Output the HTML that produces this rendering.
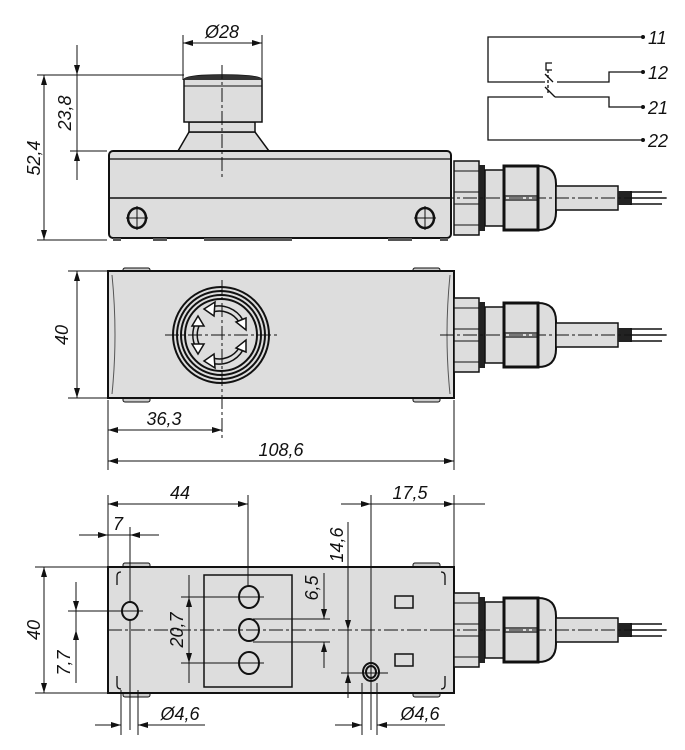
<!DOCTYPE html>
<html><head><meta charset="utf-8"><style>
html,body{margin:0;padding:0;background:#fff}
svg{display:block}
text{font-family:"Liberation Sans",sans-serif;font-style:italic;font-size:18px;fill:#111}
</style></head><body>
<svg width="685" height="750" viewBox="0 0 685 750" xmlns="http://www.w3.org/2000/svg">
<defs>
<marker id="a" viewBox="0 0 10 6" refX="10" refY="3" markerWidth="10" markerHeight="6" markerUnits="userSpaceOnUse" orient="auto-start-reverse"><path d="M0,0L10,3L0,6z" fill="#111"/></marker>
<g id="gland">
<rect x="454" y="-37" width="25" height="74" fill="#ddd" stroke="#111" stroke-width="1.5"/>
<line x1="454" y1="-27" x2="479" y2="-27" stroke="#111"/><line x1="454" y1="27" x2="479" y2="27" stroke="#111"/>
<line x1="454" y1="-6" x2="479" y2="-6" stroke="#111"/><line x1="454" y1="6" x2="479" y2="6" stroke="#111"/>
<rect x="479" y="-33" width="6" height="66" fill="#222"/>
<rect x="485" y="-28" width="19" height="56" fill="#ddd" stroke="#111" stroke-width="1.5"/>
<path d="M504,-32H538Q556,-32 556,-14V14Q556,32 538,32H504z" fill="#ddd" stroke="#111" stroke-width="2"/>
<rect x="504" y="-32" width="34" height="64" fill="#ddd" stroke="#111" stroke-width="3"/>
<line x1="504" y1="-2" x2="538" y2="-2" stroke="#111" stroke-width="1.2"/><line x1="504" y1="2" x2="538" y2="2" stroke="#111" stroke-width="1.2"/>
<line x1="538" y1="-32" x2="538" y2="32" stroke="#111" stroke-width="2"/>
<rect x="556" y="-12" width="62" height="24" fill="#ddd" stroke="#111" stroke-width="1.5"/>
<rect x="618" y="-7" width="14" height="14" fill="#222"/>
<line x1="630" y1="-6" x2="662" y2="-6" stroke="#111" stroke-width="1.5"/>
<line x1="630" y1="0" x2="666" y2="0" stroke="#111" stroke-width="1.5"/>
<line x1="630" y1="6" x2="662" y2="6" stroke="#111" stroke-width="1.5"/>
<line x1="440" y1="0" x2="670" y2="0" stroke="#111" stroke-width="1" stroke-dasharray="14,3,3,3"/>
</g>
</defs>

<!-- ========== TOP VIEW ========== -->
<!-- button -->
<path d="M178,151L189,132H255L269,151z" fill="#ddd" stroke="#111" stroke-width="1.5"/>
<rect x="189" y="122" width="66" height="10" fill="#ddd" stroke="#111" stroke-width="1.5"/>
<path d="M184,80Q184,75 222,75Q262,75 262,80V122H184z" fill="#ddd" stroke="#111" stroke-width="1.5"/>
<path d="M184,80Q184,75 222,75Q262,75 262,80z" fill="#333"/>
<line x1="184" y1="86" x2="262" y2="86" stroke="#111"/>
<!-- body -->
<rect x="109" y="151" width="342" height="87" rx="4" fill="#ddd" stroke="#111" stroke-width="2"/>
<line x1="109" y1="159" x2="451" y2="159" stroke="#111" stroke-width="1.2"/>
<line x1="109" y1="198" x2="451" y2="198" stroke="#111" stroke-width="1.5"/>
<rect x="113" y="238" width="8" height="3" fill="#555"/><rect x="153" y="238" width="14" height="3" fill="#555"/>
<rect x="204" y="238" width="88" height="3" fill="#555"/><rect x="388" y="238" width="24" height="3" fill="#555"/><rect x="440" y="238" width="8" height="3" fill="#555"/>
<g stroke="#111" fill="#ddd">
<ellipse cx="137" cy="218" rx="9" ry="10" stroke-width="2.5"/><line x1="126" y1="218" x2="148" y2="218"/><line x1="137" y1="206" x2="137" y2="230"/>
<ellipse cx="425" cy="218" rx="9" ry="10" stroke-width="2.5"/><line x1="414" y1="218" x2="436" y2="218"/><line x1="425" y1="206" x2="425" y2="230"/>
</g>
<line x1="222" y1="65" x2="222" y2="180" stroke="#111" stroke-dasharray="14,3,3,3"/>
<use href="#gland" transform="translate(0,198)"/>
<!-- dims top -->
<g stroke="#111" stroke-width="1" fill="none">
<line x1="183" y1="35" x2="183" y2="80"/><line x1="262" y1="35" x2="262" y2="80"/>
<line x1="183" y1="43" x2="262" y2="43" marker-start="url(#a)" marker-end="url(#a)"/>
<line x1="37" y1="75" x2="184" y2="75"/><line x1="37" y1="240" x2="107" y2="240"/>
<line x1="44" y1="75" x2="44" y2="240" marker-start="url(#a)" marker-end="url(#a)"/>
<line x1="70" y1="151" x2="107" y2="151"/>
<line x1="77" y1="45" x2="77" y2="75" marker-end="url(#a)"/>
<line x1="77" y1="75" x2="77" y2="151"/>
<line x1="77" y1="180" x2="77" y2="151" marker-end="url(#a)"/>
</g>
<text x="222" y="38" text-anchor="middle">Ø28</text>
<text transform="translate(40,158) rotate(-90)" text-anchor="middle">52,4</text>
<text transform="translate(71,113) rotate(-90)" text-anchor="middle">23,8</text>
<!-- circuit -->
<g stroke="#111" stroke-width="1.3" fill="none">
<polyline points="643,37 488,37 488,82 545,82"/>
<polyline points="557,82 609,82 609,72 643,72"/>
<polyline points="643,107 609,107 609,97 555,97"/>
<line x1="555" y1="97" x2="545" y2="87"/>
<line x1="553" y1="82" x2="545" y2="74"/>
<polyline points="543,97 488,97 488,140 643,140"/>
<line x1="548" y1="70" x2="548" y2="94" stroke-dasharray="3,2"/>
<polyline points="552,63 546,63 546,70 552,70"/>
</g>
<g fill="#111"><circle cx="643" cy="37" r="2"/><circle cx="643" cy="72" r="2"/><circle cx="643" cy="107" r="2"/><circle cx="643" cy="140" r="2"/></g>
<text x="648" y="44">11</text><text x="648" y="79">12</text><text x="648" y="114">21</text><text x="648" y="147">22</text>

<!-- ========== MIDDLE VIEW ========== -->
<g fill="#ccc" stroke="#111"><rect x="123" y="268" width="27" height="5" rx="2"/><rect x="413" y="268" width="27" height="5" rx="2"/><rect x="123" y="397" width="27" height="5" rx="2"/><rect x="413" y="397" width="27" height="5" rx="2"/></g>
<rect x="108" y="271" width="346" height="127" fill="#ddd" stroke="#111" stroke-width="2"/>
<path d="M112,275Q118,335 112,394M450,275Q444,335 450,394" stroke="#555" fill="none"/>
<g fill="none" stroke="#111" stroke-width="2">
<circle cx="221" cy="335" r="48" fill="#ddd"/><circle cx="221" cy="335" r="44"/><circle cx="221" cy="335" r="40"/><circle cx="221" cy="335" r="36"/>
</g>
<g fill="none" stroke="#111" stroke-width="1.5">
<path d="M211,307A28,28 0 0 1 243,320" /><path d="M213,312A23,23 0 0 1 239,322"/>
<path d="M243,350A28,28 0 0 1 211,363"/><path d="M239,348A23,23 0 0 1 213,358"/>
<path d="M196,322A28,28 0 0 0 196,348"/><path d="M200,324A23,23 0 0 0 200,346"/>
</g>
<g fill="#fff" stroke="#111" stroke-width="1.5">
<path d="M204,309L215,302L214,316z"/><path d="M246,318L246,330L236,322z"/>
<path d="M246,352L236,348L246,340z"/><path d="M204,361L214,354L215,368z"/>
<path d="M198,316L192,326L204,326z"/><path d="M198,354L192,344L204,344z"/>
</g>
<line x1="165" y1="335" x2="280" y2="335" stroke="#111" stroke-dasharray="14,3,3,3"/>
<line x1="222" y1="280" x2="222" y2="440" stroke="#111" stroke-dasharray="14,3,3,3"/>
<use href="#gland" transform="translate(0,335)"/>
<g stroke="#111" stroke-width="1" fill="none">
<line x1="68" y1="271" x2="107" y2="271"/><line x1="68" y1="398" x2="107" y2="398"/>
<line x1="77" y1="271" x2="77" y2="398" marker-start="url(#a)" marker-end="url(#a)"/>
<line x1="108" y1="400" x2="108" y2="470"/><line x1="454" y1="400" x2="454" y2="470"/>
<line x1="108" y1="430" x2="222" y2="430" marker-start="url(#a)" marker-end="url(#a)"/>
<line x1="108" y1="461" x2="454" y2="461" marker-start="url(#a)" marker-end="url(#a)"/>
</g>
<text transform="translate(68,335) rotate(-90)" text-anchor="middle">40</text>
<text x="164" y="425" text-anchor="middle">36,3</text>
<text x="281" y="456" text-anchor="middle">108,6</text>

<!-- ========== BOTTOM VIEW ========== -->
<g fill="#ccc" stroke="#111"><rect x="123" y="563" width="27" height="5" rx="2"/><rect x="413" y="563" width="27" height="5" rx="2"/><rect x="123" y="692" width="27" height="5" rx="2"/><rect x="413" y="692" width="27" height="5" rx="2"/></g>
<rect x="108" y="567" width="346" height="126" fill="#ddd" stroke="#111" stroke-width="2"/>
<g stroke="#111" stroke-width="1.3" fill="none">
<path d="M117,585V576Q117,572 121,572"/><path d="M445,585V576Q445,572 441,572"/>
<path d="M117,676V685Q117,689 121,689"/><path d="M445,676V685Q445,689 441,689"/>
</g>
<rect x="204" y="575" width="88" height="112" fill="#ddd" stroke="#111" stroke-width="1.5"/>
<g fill="#ddd" stroke="#111" stroke-width="2">
<ellipse cx="249" cy="597" rx="10" ry="11"/><ellipse cx="249" cy="630" rx="10" ry="11"/><ellipse cx="249" cy="663" rx="10" ry="11"/>
<ellipse cx="130" cy="611" rx="8" ry="9"/><ellipse cx="371" cy="672" rx="8" ry="9"/><ellipse cx="371" cy="672" rx="5" ry="6"/>
</g>
<rect x="395" y="596" width="18" height="12" fill="#ddd" stroke="#111" stroke-width="1.5"/>
<rect x="395" y="654" width="18" height="12" fill="#ddd" stroke="#111" stroke-width="1.5"/>
<line x1="108" y1="630" x2="454" y2="630" stroke="#111" stroke-dasharray="14,3,3,3"/>
<use href="#gland" transform="translate(0,630)"/>
<g stroke="#111" stroke-width="1" fill="none">
<!-- 44 / 7 / 17,5 -->
<line x1="108" y1="495" x2="108" y2="567"/><line x1="248" y1="495" x2="248" y2="586"/>
<line x1="108" y1="504" x2="248" y2="504" marker-start="url(#a)" marker-end="url(#a)"/>
<line x1="79" y1="535" x2="108" y2="535" marker-end="url(#a)"/>
<line x1="159" y1="535" x2="130" y2="535" marker-end="url(#a)"/>
<line x1="108" y1="535" x2="130" y2="535"/>
<line x1="130" y1="527" x2="130" y2="602"/><line x1="130" y1="620" x2="130" y2="730"/>
<line x1="341" y1="504" x2="371" y2="504" marker-end="url(#a)"/>
<line x1="371" y1="504" x2="454" y2="504" marker-end="url(#a)"/>
<line x1="485" y1="504" x2="454" y2="504"/>
<line x1="371" y1="495" x2="371" y2="730"/><line x1="454" y1="495" x2="454" y2="567"/>
<!-- hole lines -->
<line x1="181" y1="597" x2="264" y2="597"/><line x1="181" y1="663" x2="264" y2="663"/>
<line x1="253" y1="619" x2="330" y2="619"/><line x1="253" y1="642" x2="330" y2="642"/>
<line x1="68" y1="611" x2="143" y2="611"/>
<line x1="341" y1="673" x2="388" y2="673"/>
<!-- 40 -->
<line x1="35" y1="567" x2="107" y2="567"/><line x1="35" y1="693" x2="107" y2="693"/>
<line x1="44" y1="567" x2="44" y2="693" marker-start="url(#a)" marker-end="url(#a)"/>
<!-- 7,7 -->
<line x1="76" y1="582" x2="76" y2="611" marker-end="url(#a)"/>
<line x1="76" y1="611" x2="76" y2="630"/>
<line x1="76" y1="683" x2="76" y2="630" marker-end="url(#a)"/>
<!-- 20,7 -->
<line x1="189" y1="575" x2="189" y2="683"/>
<line x1="189" y1="630" x2="189" y2="597" marker-end="url(#a)"/>
<line x1="189" y1="630" x2="189" y2="663" marker-end="url(#a)"/>
<!-- 6,5 -->
<line x1="324" y1="573" x2="324" y2="619" marker-end="url(#a)"/>
<line x1="324" y1="668" x2="324" y2="642" marker-end="url(#a)"/>
<!-- 14,6 -->
<line x1="348" y1="522" x2="348" y2="630" marker-end="url(#a)"/>
<line x1="348" y1="630" x2="348" y2="698"/>
<line x1="348" y1="698" x2="348" y2="673" marker-end="url(#a)"/>
<!-- Ø4,6 -->
<line x1="121" y1="690" x2="121" y2="735"/><line x1="138" y1="690" x2="138" y2="735"/>
<line x1="95" y1="725" x2="121" y2="725" marker-end="url(#a)"/>
<line x1="205" y1="725" x2="138" y2="725" marker-end="url(#a)"/>
<line x1="362" y1="683" x2="362" y2="735"/><line x1="377" y1="683" x2="377" y2="735"/>
<line x1="335" y1="725" x2="362" y2="725" marker-end="url(#a)"/>
<line x1="445" y1="725" x2="377" y2="725" marker-end="url(#a)"/>
</g>
<text x="180" y="499" text-anchor="middle">44</text>
<text x="118" y="530" text-anchor="middle">7</text>
<text x="410" y="499" text-anchor="middle">17,5</text>
<text transform="translate(343,545) rotate(-90)" text-anchor="middle">14,6</text>
<text transform="translate(318,588) rotate(-90)" text-anchor="middle">6,5</text>
<text transform="translate(183,630) rotate(-90)" text-anchor="middle">20,7</text>
<text transform="translate(70,663) rotate(-90)" text-anchor="middle">7,7</text>
<text transform="translate(40,630) rotate(-90)" text-anchor="middle">40</text>
<text x="180" y="720" text-anchor="middle">Ø4,6</text>
<text x="420" y="720" text-anchor="middle">Ø4,6</text>
</svg>
</body></html>
